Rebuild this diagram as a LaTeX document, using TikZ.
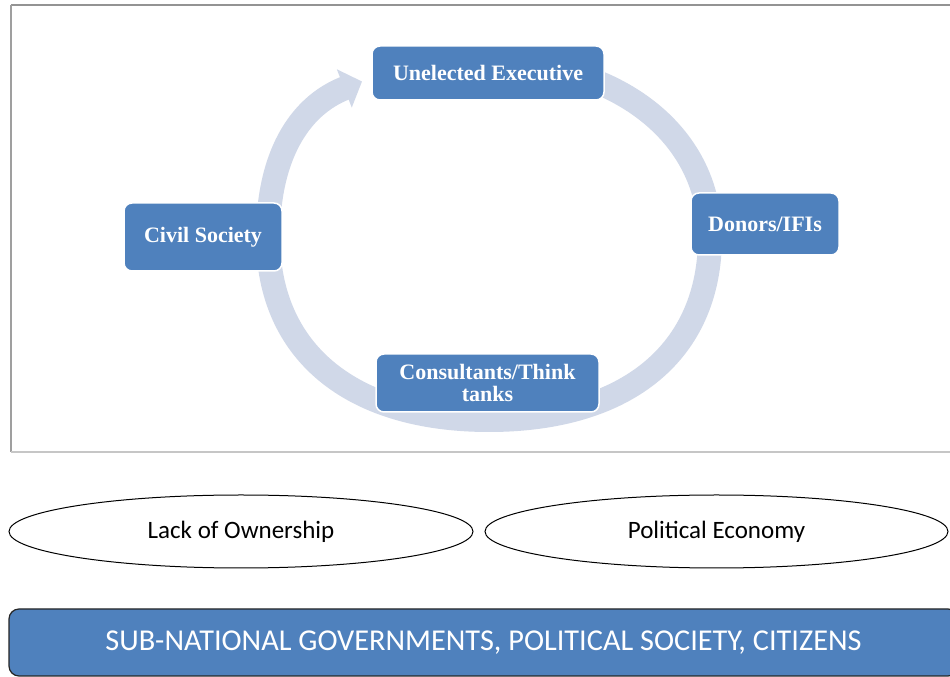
\documentclass[tikz,border=0pt]{standalone}
\usepackage{fontspec}
\setmainfont{Carlito}
\newfontfamily\stagefont{Liberation Serif}
\usepackage{tikz}
\usetikzlibrary{arrows.meta,shapes.geometric}
\definecolor{stageblue}{RGB}{79,129,189}
\definecolor{ringgray}{RGB}{208,216,232}

\begin{document}
\begin{tikzpicture}[x=1pt,y=1pt,
    stage/.style={rectangle,rounded corners=8pt,fill=stageblue,draw=white,line width=1.5pt,
      text=white,align=center,inner sep=0pt,font=\stagefont\bfseries\fontsize{22}{22}\selectfont},
    ringband/.style={draw=ringgray,line width=24pt},
    issue/.style={ellipse,draw=black,line width=1pt,minimum width=464pt,minimum height=73pt,
      inner sep=0pt,font=\fontsize{25}{28}\selectfont},
    base/.style={rectangle,rounded corners=10pt,fill=stageblue,draw=black!85,line width=1.2pt,
      text=white,minimum width=949pt,minimum height=67pt,inner sep=0pt,font=\fontsize{30.3}{32}\selectfont},
    frameline/.style={line width=1.5pt}]
  \clip (0,0) rectangle (950,677);
  \fill[white] (0,0) rectangle (950,677);
  \draw[frameline,gray!85] (11,672) -- (950,672);
  \draw[frameline,gray!75] (11,672) -- (11,225);
  \draw[frameline,gray!45] (11,225) -- (950,225);
  \coordinate (ringT) at (489,615);
  \coordinate (ringR) at (710,440);
  \coordinate (ringB) at (489,257);
  \coordinate (ringL) at (268,440);
  \coordinate (ringtip) at (362,595.5);
  \draw[ringband] (ringT) .. controls +(125,0) and +(0,105) .. (ringR);
  \draw[ringband] (ringR) .. controls +(0,-115) and +(138,0) .. (ringB);
  \draw[ringband] (ringB) .. controls +(-138,0) and +(0,-115) .. (ringL);
  \draw[ringband,-{Triangle[width=40pt,length=19pt]}] (ringL) .. controls +(0,79) and +(-64,-25) .. (ringtip);
  \node[stage,minimum width=232pt,minimum height=54pt] (exec) at (488,604) {Unelected Executive};
  \node[stage,minimum width=148pt,minimum height=62pt] (donors) at (765,453) {Donors/IFIs};
  \node[stage,minimum width=158pt,minimum height=68pt] (civil) at (203,440) {Civil Society};
  \node[stage,minimum width=223pt,minimum height=58pt] (consult) at (487.5,294) {Consultants/Think\\tanks};
  \node[issue] (lack) at (241,145.5) {Lack of Ownership};
  \node[issue,minimum width=463pt] (polecon) at (716.5,145.5) {Political Economy};
  \node[base] (base) at (483.5,34.5) {SUB-NATIONAL GOVERNMENTS, POLITICAL SOCIETY, CITIZENS};
\end{tikzpicture}
\end{document}
